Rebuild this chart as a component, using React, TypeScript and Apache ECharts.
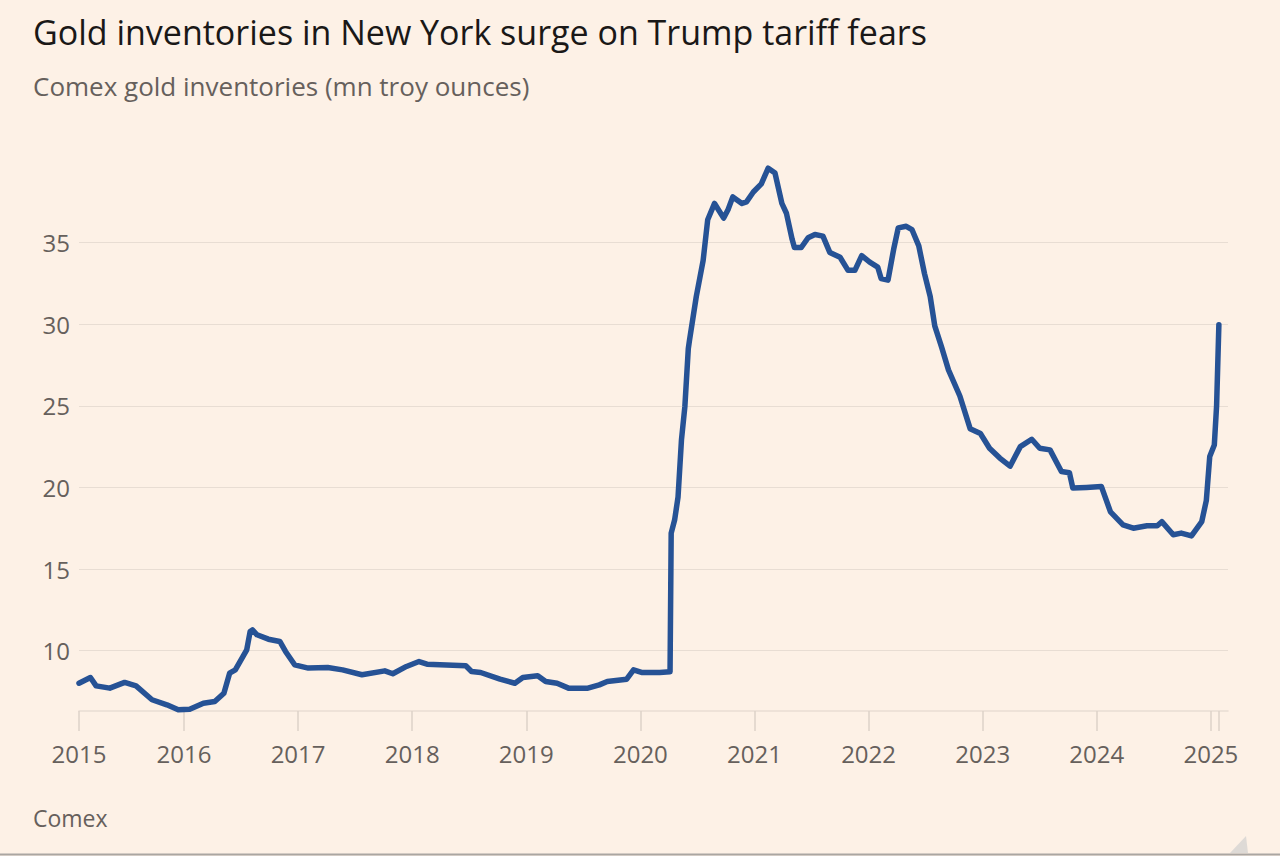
import React, { useEffect, useRef } from "react";
import * as echarts from "echarts";

// Decimal year and Comex gold inventories (mn troy ounces)
const years: number[] = [
  2015.08, 2015.18, 2015.23, 2015.35, 2015.48, 2015.58, 2015.72, 2015.85, 2015.95, 2016.05,
  2016.17, 2016.27, 2016.35, 2016.40, 2016.45, 2016.55, 2016.58, 2016.60, 2016.64, 2016.74,
  2016.84, 2016.89, 2016.97, 2017.09, 2017.26, 2017.39, 2017.56, 2017.76, 2017.83, 2017.95,
  2018.06, 2018.13, 2018.47, 2018.52, 2018.60, 2018.77, 2018.90, 2018.97, 2019.10, 2019.17,
  2019.27, 2019.37, 2019.54, 2019.64, 2019.71, 2019.88, 2019.94, 2020.01, 2020.17, 2020.26,
  2020.27, 2020.30, 2020.33, 2020.36, 2020.39, 2020.42, 2020.43, 2020.49, 2020.55, 2020.59,
  2020.65, 2020.73, 2020.77, 2020.81, 2020.89, 2020.93, 2020.99, 2021.06, 2021.12, 2021.18,
  2021.24, 2021.28, 2021.33, 2021.35, 2021.41, 2021.47, 2021.53, 2021.60, 2021.66, 2021.75,
  2021.82, 2021.88, 2021.94, 2022.01, 2022.08, 2022.11, 2022.17, 2022.22, 2022.26, 2022.33,
  2022.38, 2022.44, 2022.49, 2022.54, 2022.58, 2022.64, 2022.70, 2022.80, 2022.89, 2022.98,
  2023.06, 2023.15, 2023.24, 2023.33, 2023.43, 2023.50, 2023.59, 2023.69, 2023.76, 2023.79,
  2023.91, 2024.04, 2024.12, 2024.23, 2024.32, 2024.44, 2024.53, 2024.57, 2024.67, 2024.74,
  2024.83, 2024.92, 2024.96, 2024.99, 2025.03, 2025.05, 2025.07,
];
const inventories: number[] = [
  8.0, 8.35, 7.84, 7.7, 8.05, 7.84, 6.99, 6.68, 6.37, 6.41,
  6.78, 6.88, 7.39, 8.62, 8.82, 10.05, 11.17, 11.27, 10.97, 10.7,
  10.56, 9.95, 9.13, 8.93, 8.96, 8.82, 8.52, 8.76, 8.58, 9.03,
  9.33, 9.17, 9.07, 8.72, 8.66, 8.25, 8.0, 8.35, 8.46, 8.11,
  8.0, 7.7, 7.7, 7.9, 8.11, 8.25, 8.82, 8.66, 8.66, 8.7,
  17.2, 18.0, 19.4, 22.9, 24.96, 28.5, 29.0, 31.7, 33.9, 36.4,
  37.4, 36.5, 37.05, 37.8, 37.4, 37.5, 38.1, 38.6, 39.56, 39.26,
  37.4, 36.8, 35.2, 34.7, 34.7, 35.3, 35.5, 35.4, 34.4, 34.1,
  33.3, 33.3, 34.2, 33.8, 33.5, 32.8, 32.7, 34.6, 35.9, 36.0,
  35.8, 34.8, 33.1, 31.7, 29.9, 28.6, 27.2, 25.6, 23.6, 23.3,
  22.4, 21.8, 21.3, 22.5, 22.95, 22.4, 22.3, 20.97, 20.9, 19.96,
  20.0, 20.06, 18.5, 17.7, 17.5, 17.65, 17.65, 17.9, 17.1, 17.2,
  17.03, 17.9, 19.2, 21.9, 22.6, 25.0, 29.96,
];

const xTickValues: number[] = [2015.08, 2016, 2017, 2018, 2019, 2020, 2021, 2022, 2023, 2024, 2025, 2025.07];
const xLabelValues: number[] = [2015.08, 2016, 2017, 2018, 2019, 2020, 2021, 2022, 2023, 2024, 2025];
const yTickValues: number[] = [10, 15, 20, 25, 30, 35];

const TITLE = "Gold inventories in New York surge on Trump tariff fears";
const SUBTITLE = "Comex gold inventories (mn troy ounces)";
const SOURCE = "Comex";

const FONT = "'Open Sans', 'Noto Sans', sans-serif";
const GREY = "#66605c";
const GRID = "#e8ddd3";

export default function App() {
  const ref = useRef<HTMLDivElement>(null);
  useEffect(() => {
    if (!ref.current) return;
    const chart = echarts.init(ref.current, null, { renderer: "svg" });
    const data = years.map((y, i) => [y, inventories[i]]);
    chart.setOption({
      animation: false,
      backgroundColor: "#fdf1e6",
      textStyle: { fontFamily: FONT },
      grid: { left: 79, right: 52, top: 161, bottom: 145, containLabel: false },
      xAxis: {
        type: "value",
        min: 2015.08,
        max: 2025.15,
        axisLine: { show: true, lineStyle: { color: GRID, width: 1.5 } },
        axisTick: {
          show: true,
          length: 20,
          customValues: xTickValues,
          lineStyle: { color: "#ddd2c8", width: 1.5 },
        },
        axisLabel: {
          customValues: xLabelValues,
          formatter: (v: number) => String(Math.floor(v + 1e-6)),
          color: GREY,
          fontSize: 24,
          fontFamily: FONT,
          margin: 30,
        },
        splitLine: { show: false },
      },
      yAxis: {
        type: "value",
        min: 6.3,
        max: 40,
        axisLine: { show: false },
        axisTick: { show: false, customValues: yTickValues },
        axisLabel: {
          customValues: yTickValues,
          color: GREY,
          fontSize: 24,
          fontFamily: FONT,
          margin: 9,
        },
        splitLine: { show: true, lineStyle: { color: GRID, width: 1 } },
      },
      series: [
        {
          type: "line",
          data,
          showSymbol: false,
          symbol: "none",
          lineStyle: { color: "#265295", width: 5.5, join: "round", cap: "round" },
        },
      ],
      graphic: [
        {
          type: "text",
          left: 33,
          top: 15,
          style: { text: TITLE, fill: "#1a1817", font: `34px ${FONT}` },
        },
        {
          type: "text",
          left: 33,
          top: 73,
          style: { text: SUBTITLE, fill: GREY, font: `26px ${FONT}` },
        },
        {
          type: "text",
          left: 33,
          top: 806,
          style: { text: SOURCE, fill: GREY, font: `23px ${FONT}` },
        },
        {
          type: "line",
          shape: { x1: 0, y1: 854.5, x2: 1280, y2: 854.5 },
          style: { stroke: "#aaa6a2", lineWidth: 2 },
        },
        {
          type: "polygon",
          shape: { points: [[1230, 853], [1246, 836], [1248, 853]] },
          style: { fill: "#dedad6" },
        },
      ],
    });
    return () => chart.dispose();
  }, []);
  return (
    <div
      ref={ref}
      style={{ position: "fixed", left: 0, top: 0, width: 1280, height: 856 }}
    />
  );
}
